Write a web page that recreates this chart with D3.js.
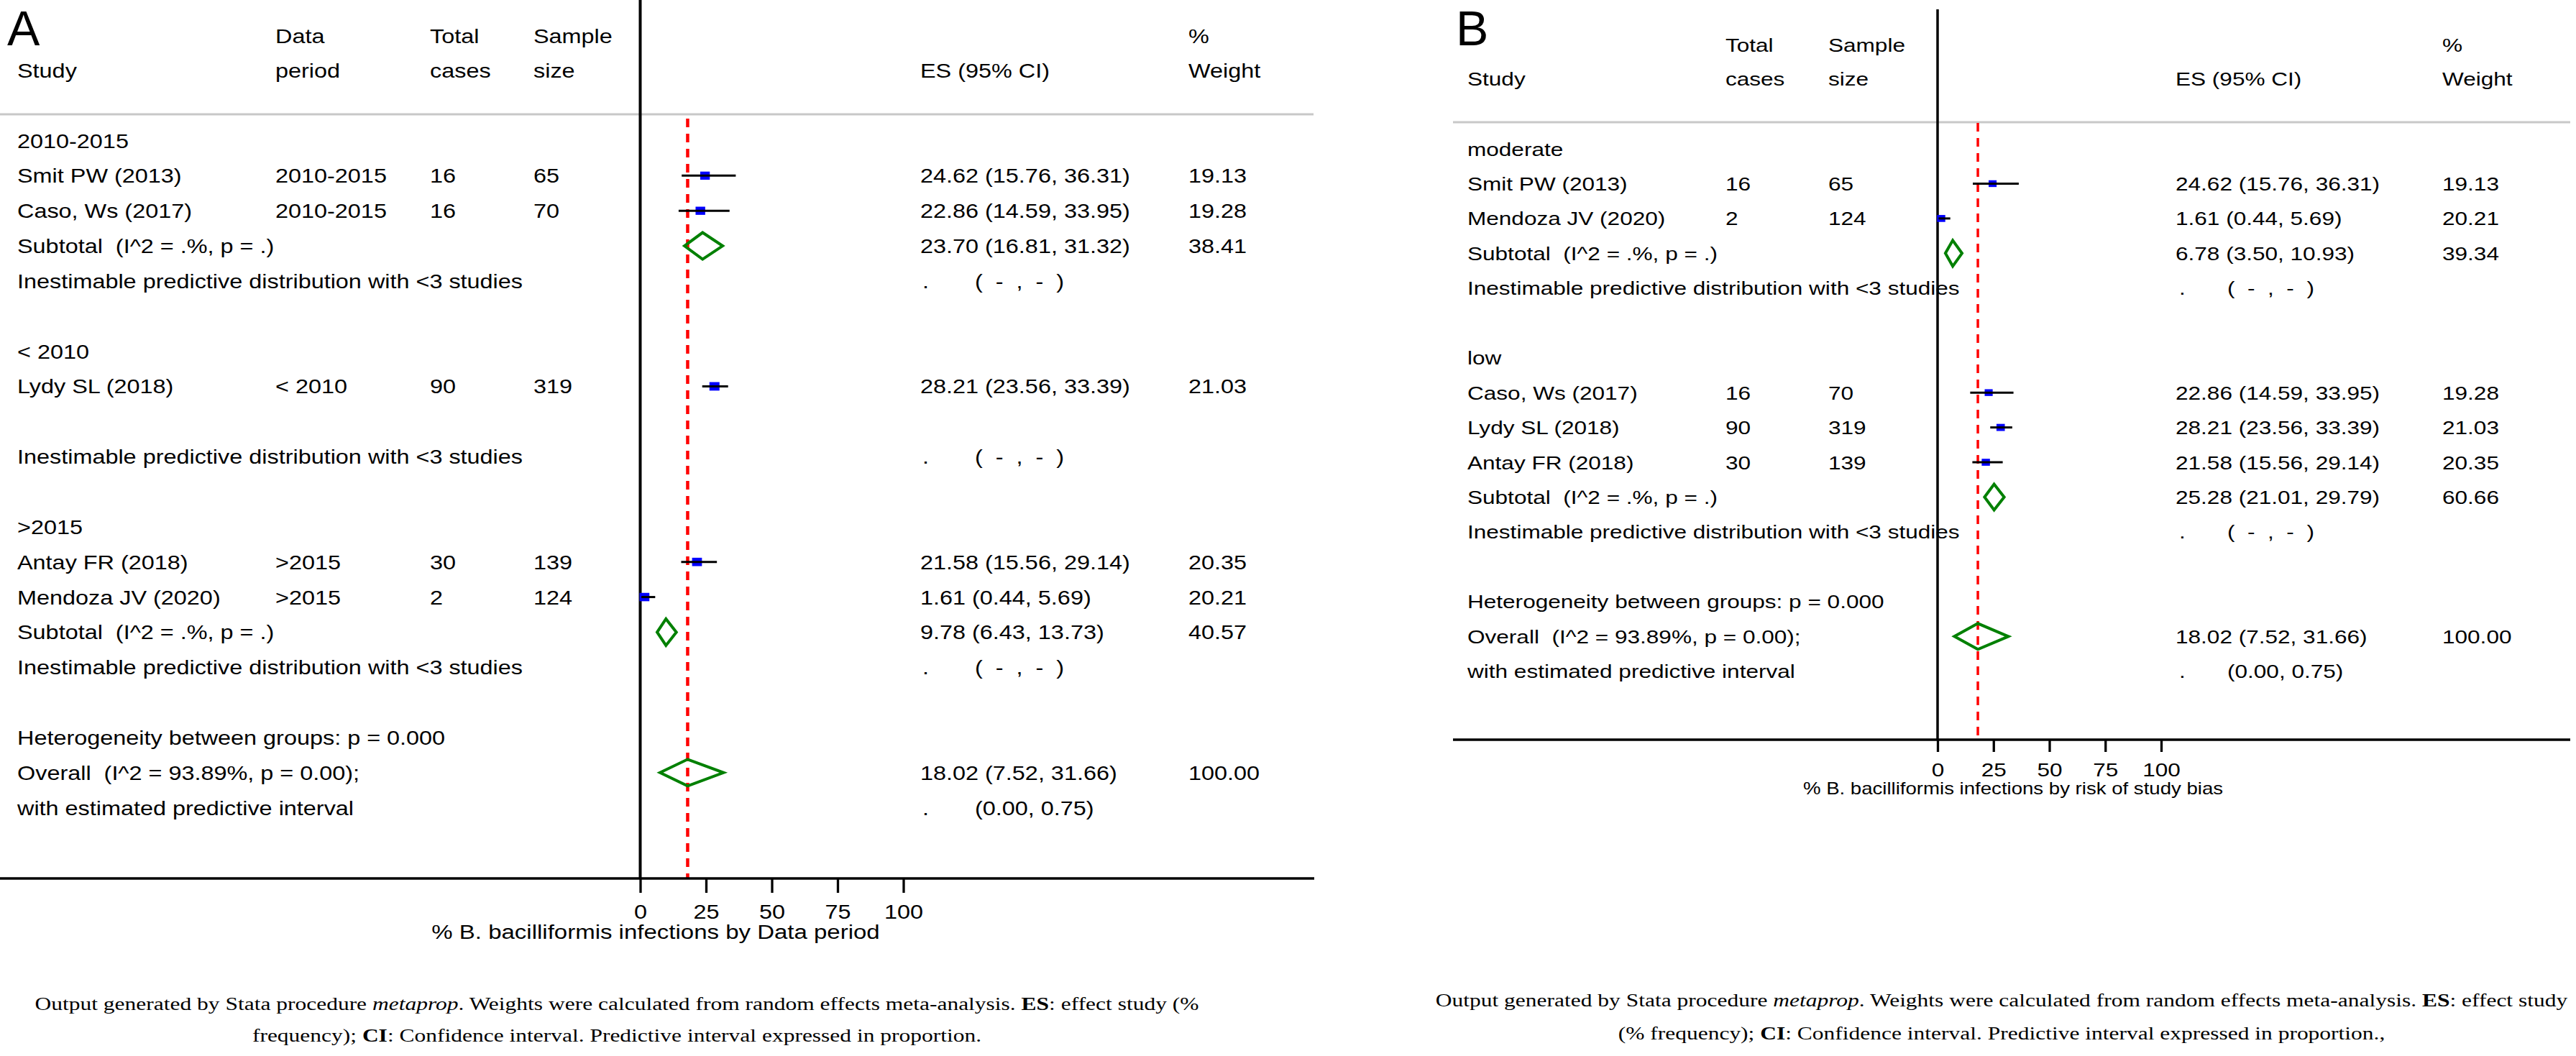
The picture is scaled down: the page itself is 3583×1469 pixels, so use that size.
<!DOCTYPE html>
<html><head><meta charset="utf-8">
<script src="https://cdn.jsdelivr.net/npm/d3@7"></script>
<style>html,body{margin:0;padding:0;background:#fff;} svg{display:block}</style>
</head><body>
<script>
// ---------------- DATA ----------------
// Panel A: by data period
const groupsA   = ["2010-2015", "< 2010", ">2015"];
const studiesA  = ["Smit PW (2013)", "Caso, Ws (2017)", "Lydy SL (2018)", "Antay FR (2018)", "Mendoza JV (2020)"];
const groupOfA  = ["2010-2015", "2010-2015", "< 2010", ">2015", ">2015"];
const periodA   = ["2010-2015", "2010-2015", "< 2010", ">2015", ">2015"];
const casesA    = [16, 16, 90, 30, 2];
const sampleA   = [65, 70, 319, 139, 124];
const esA       = [24.62, 22.86, 28.21, 21.58, 1.61];
const loA       = [15.76, 14.59, 23.56, 15.56, 0.44];
const hiA       = [36.31, 33.95, 33.39, 29.14, 5.69];
const weightA   = [19.13, 19.28, 21.03, 20.35, 20.21];
const subEsA    = [23.70, null, 9.78];
const subLoA    = [16.81, null, 6.43];
const subHiA    = [31.32, null, 13.73];
const subWA     = [38.41, null, 40.57];

// Panel B: by risk of study bias
const groupsB   = ["moderate", "low"];
const studiesB  = ["Smit PW (2013)", "Mendoza JV (2020)", "Caso, Ws (2017)", "Lydy SL (2018)", "Antay FR (2018)"];
const groupOfB  = ["moderate", "moderate", "low", "low", "low"];
const casesB    = [16, 2, 16, 90, 30];
const sampleB   = [65, 124, 70, 319, 139];
const esB       = [24.62, 1.61, 22.86, 28.21, 21.58];
const loB       = [15.76, 0.44, 14.59, 23.56, 15.56];
const hiB       = [36.31, 5.69, 33.95, 33.39, 29.14];
const weightB   = [19.13, 20.21, 19.28, 21.03, 20.35];
const subEsB    = [6.78, 25.28];
const subLoB    = [3.50, 21.01];
const subHiB    = [10.93, 29.79];
const subWB     = [39.34, 60.66];

// Overall (same in both panels)
const overallEs = 18.02, overallLo = 7.52, overallHi = 31.66, overallW = 100.00;
const overallI2 = "93.89", overallP = "0.00", hetP = "0.000";
const predLo = 0.00, predHi = 0.75;

const tickValues = [0, 25, 50, 75, 100];
const tickLabels = ["0", "25", "50", "75", "100"];
const axisTitleA = "% B. bacilliformis infections by Data period";
const axisTitleB = "% B. bacilliformis infections by risk of study bias";

// ---------------- SETUP ----------------
const W = 3583, H = 1469;
const SANS = "'Liberation Sans', Arial, Helvetica, sans-serif";
const SERIF = "'Liberation Serif', 'Times New Roman', Times, serif";
const SX = 1.2; // horizontal stretch of the original picture
const fmt = d3.format(".2f");

const svg = d3.select("body").append("svg").attr("width", W).attr("height", H);
svg.append("rect").attr("width", W).attr("height", H).attr("fill", "#fff");

function T(g, x, y, s, o = {}) {
  const t = g.append("text")
    .attr("transform", `translate(${x},${y}) scale(${o.sx ?? SX},1)`)
    .attr("font-family", o.family || SANS)
    .attr("font-size", o.size || 27)
    .attr("text-anchor", o.anchor || "start")
    .attr("fill", "#000")
    .style("white-space", "pre");
  if (s != null) t.text(s);
  return t;
}

function buildRows(groups, groupOf) {
  const rows = [];
  groups.forEach((gname, gi) => {
    rows.push({ type: "group", label: gname });
    const idx = groupOf.map((g, i) => g === gname ? i : -1).filter(i => i >= 0);
    idx.forEach(i => rows.push({ type: "study", i }));
    if (idx.length > 1) rows.push({ type: "sub", gi }); else rows.push({ type: "blank" });
    rows.push({ type: "inest" });
    rows.push({ type: "blank" });
  });
  rows.push({ type: "het" }, { type: "overall" }, { type: "pred" });
  return rows;
}

function drawPanel(c) {
  const g = svg.append("g");
  const x = c.x;
  const rows = buildRows(c.groups, c.groupOf);
  const y = d3.scaleLinear().domain([0, 1]).range([c.y0, c.y0 + c.dy]);
  const fs = c.fs;

  // letter
  g.append("text").attr("x", c.letter[1]).attr("y", c.letter[2])
    .attr("font-family", SANS).attr("font-size", 68).text(c.letter[0]);

  // headers
  c.headers.forEach(h => T(g, h[0], h[1], h[2], { size: fs }));

  // gray separator
  g.append("line").attr("x1", c.grayX[0]).attr("x2", c.grayX[1])
    .attr("y1", c.grayY).attr("y2", c.grayY)
    .attr("stroke", "#c8c8c8").attr("stroke-width", 3);

  // vertical null line
  g.append("line").attr("x1", x(0)).attr("x2", x(0))
    .attr("y1", c.vTop).attr("y2", c.axisY)
    .attr("stroke", "#000").attr("stroke-width", c.vW);

  // red dashed overall line
  g.append("line").attr("x1", x(overallEs)).attr("x2", x(overallEs))
    .attr("y1", c.redTop).attr("y2", c.axisY)
    .attr("stroke", "#ff0000").attr("stroke-width", c.redW)
    .attr("stroke-dasharray", "12,9");

  const diamond = (es, lo, hi, yc) => {
    const h = c.dh;
    g.append("path")
      .attr("d", `M${x(lo)},${yc}L${x(es)},${yc - h}L${x(hi)},${yc}L${x(es)},${yc + h}Z`)
      .attr("fill", "none").attr("stroke", "#008000").attr("stroke-width", 4)
      .attr("stroke-linejoin", "miter");
  };

  rows.forEach((r, ri) => {
    const yc = y(ri);
    const yb = yc + c.bOff;
    if (r.type === "group") {
      T(g, c.cols.study, yb, r.label, { size: fs });
    } else if (r.type === "study") {
      const i = r.i;
      T(g, c.cols.study, yb, c.studies[i], { size: fs });
      if (c.period) T(g, c.cols.period, yb, c.period[i], { size: fs });
      T(g, c.cols.cases, yb, String(c.cases[i]), { size: fs });
      T(g, c.cols.sample, yb, String(c.sample[i]), { size: fs });
      T(g, c.cols.es, yb, `${fmt(c.es[i])} (${fmt(c.lo[i])}, ${fmt(c.hi[i])})`, { size: fs });
      T(g, c.cols.w, yb, fmt(c.w[i]), { size: fs });
      const sh = c.sq * Math.sqrt(c.w[i]), sw = sh * 1.18;
      g.append("rect").attr("x", x(c.es[i]) - sw / 2).attr("y", yc - sh / 2)
        .attr("width", sw).attr("height", sh).attr("fill", "#0000ff");
      g.append("line").attr("x1", x(c.lo[i])).attr("x2", x(c.hi[i]))
        .attr("y1", yc).attr("y2", yc).attr("stroke", "#000").attr("stroke-width", 3);
    } else if (r.type === "sub") {
      const gi = r.gi;
      T(g, c.cols.study, yb, "Subtotal  (I^2 = .%, p = .)", { size: fs });
      T(g, c.cols.es, yb, `${fmt(c.subEs[gi])} (${fmt(c.subLo[gi])}, ${fmt(c.subHi[gi])})`, { size: fs });
      T(g, c.cols.w, yb, fmt(c.subW[gi]), { size: fs });
      diamond(c.subEs[gi], c.subLo[gi], c.subHi[gi], yc);
    } else if (r.type === "inest") {
      T(g, c.cols.study, yb, "Inestimable predictive distribution with <3 studies", { size: fs });
      T(g, c.cols.es + c.dotOff, yb, ".", { size: fs });
      T(g, c.cols.es + c.parOff, yb, "(  -  ,  -  )", { size: fs });
    } else if (r.type === "het") {
      T(g, c.cols.study, yb, `Heterogeneity between groups: p = ${hetP}`, { size: fs });
    } else if (r.type === "overall") {
      T(g, c.cols.study, yb, `Overall  (I^2 = ${overallI2}%, p = ${overallP});`, { size: fs });
      T(g, c.cols.es, yb, `${fmt(overallEs)} (${fmt(overallLo)}, ${fmt(overallHi)})`, { size: fs });
      T(g, c.cols.w, yb, fmt(overallW), { size: fs });
      diamond(overallEs, overallLo, overallHi, yc);
    } else if (r.type === "pred") {
      T(g, c.cols.study, yb, "with estimated predictive interval", { size: fs });
      T(g, c.cols.es + c.dotOff, yb, ".", { size: fs });
      T(g, c.cols.es + c.parOff, yb, `(${fmt(predLo)}, ${fmt(predHi)})`, { size: fs });
    }
  });

  // long axis line
  g.append("line").attr("x1", c.axisX[0]).attr("x2", c.axisX[1])
    .attr("y1", c.axisY).attr("y2", c.axisY)
    .attr("stroke", "#000").attr("stroke-width", c.axW);

  // axis ticks + labels via d3.axisBottom
  const ax = g.append("g").attr("transform", `translate(0,${c.axisY})`)
    .call(d3.axisBottom(x).tickValues(tickValues)
      .tickFormat((d, i) => tickLabels[i]).tickSize(c.tickLen).tickSizeOuter(0));
  ax.select(".domain").remove();
  ax.selectAll(".tick line").attr("stroke", "#000").attr("stroke-width", c.axW);
  ax.selectAll(".tick text")
    .attr("y", c.tickLabY - c.axisY).attr("dy", 0)
    .attr("transform", `scale(${SX},1)`)
    .attr("font-family", SANS).attr("font-size", fs).attr("fill", "#000");

  T(g, c.titleX, c.titleY, c.title, { size: c.titleSize, anchor: "middle" });

  // footer
  c.footer.forEach((line, li) => {
    const t = T(g, c.footX, c.footY[li], null, { family: SERIF, size: 25, anchor: "middle", sx: 1.26 });
    line.forEach(seg => {
      const ts = t.append("tspan").text(seg[0]);
      if (seg[1] === "i") ts.attr("font-style", "italic");
      if (seg[1] === "b") ts.attr("font-weight", "bold");
    });
  });
}

drawPanel({
  letter: ["A", 10, 63],
  groups: groupsA, groupOf: groupOfA, studies: studiesA, period: periodA,
  cases: casesA, sample: sampleA, es: esA, lo: loA, hi: hiA, w: weightA,
  subEs: subEsA, subLo: subLoA, subHi: subHiA, subW: subWA,
  x: d3.scaleLinear().domain([0, 100]).range([890.5, 1256.5]),
  y0: 195.5, dy: 48.85, bOff: 10, fs: 27,
  cols: { study: 24, period: 383, cases: 598, sample: 742, es: 1280, w: 1653 },
  dotOff: 3, parOff: 76,
  headers: [[383, 60, "Data"], [598, 60, "Total"], [742, 60, "Sample"], [1653, 60, "%"],
            [24, 108, "Study"], [383, 108, "period"], [598, 108, "cases"], [742, 108, "size"],
            [1280, 108, "ES (95% CI)"], [1653, 108, "Weight"]],
  grayY: 159, grayX: [0, 1827],
  vTop: 0, vW: 4, redTop: 165, redW: 4.5,
  axisY: 1222, axisX: [0, 1828], axW: 3.3, tickLen: 20, tickLabY: 1278,
  titleX: 912, titleY: 1306, title: axisTitleA, titleSize: 27.5,
  sq: 2.58, dh: 18.5,
  footX: 858, footY: [1405, 1449],
  footer: [
    [["Output generated by Stata procedure "], ["metaprop", "i"], [". Weights were calculated from random effects meta-analysis. "], ["ES", "b"], [": effect study (%"]],
    [["frequency); "], ["CI", "b"], [": Confidence interval. Predictive interval expressed in proportion."]]
  ]
});

drawPanel({
  letter: ["B", 2025, 63],
  groups: groupsB, groupOf: groupOfB, studies: studiesB, period: null,
  cases: casesB, sample: sampleB, es: esB, lo: loB, hi: hiB, w: weightB,
  subEs: subEsB, subLo: subLoB, subHi: subHiB, subW: subWB,
  x: d3.scaleLinear().domain([0, 100]).range([2695, 3006]),
  y0: 207, dy: 48.45, bOff: 9.5, fs: 26.3,
  cols: { study: 2041, cases: 2400, sample: 2543, es: 3026, w: 3397 },
  dotOff: 5, parOff: 72,
  headers: [[2400, 72, "Total"], [2543, 72, "Sample"], [3397, 72, "%"],
            [2041, 119, "Study"], [2400, 119, "cases"], [2543, 119, "size"],
            [3026, 119, "ES (95% CI)"], [3397, 119, "Weight"]],
  grayY: 170, grayX: [2021, 3575],
  vTop: 13, vW: 3.5, redTop: 171, redW: 3.5,
  axisY: 1029, axisX: [2021, 3575], axW: 3.3, tickLen: 17, tickLabY: 1080,
  titleX: 2800, titleY: 1105, title: axisTitleB, titleSize: 23,
  sq: 2.15, dh: 18,
  footX: 2784, footY: [1400, 1446],
  footer: [
    [["Output generated by Stata procedure "], ["metaprop", "i"], [". Weights were calculated from random effects meta-analysis. "], ["ES", "b"], [": effect study"]],
    [["(% frequency); "], ["CI", "b"], [": Confidence interval. Predictive interval expressed in proportion.,"]]
  ]
});
</script>
</body></html>
